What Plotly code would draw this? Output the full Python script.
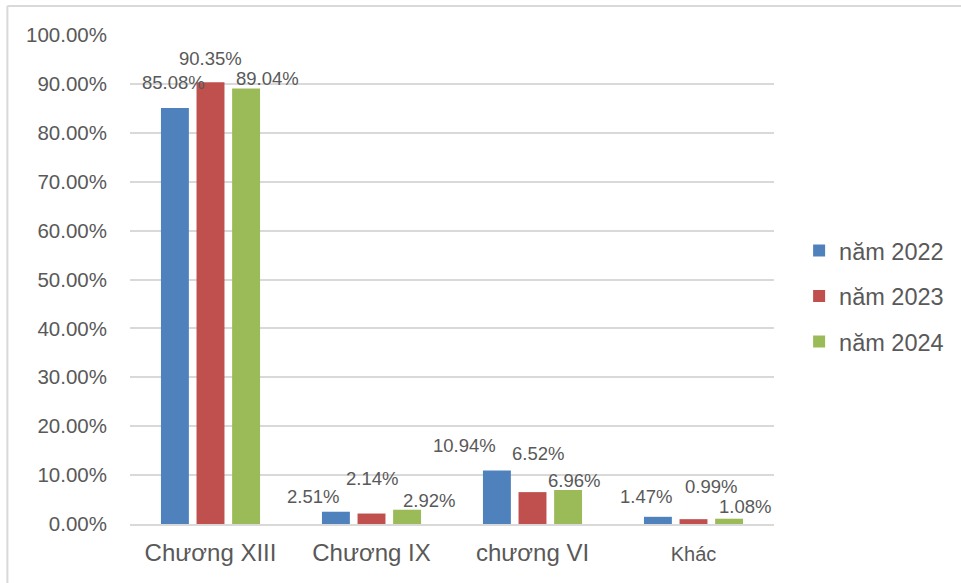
import plotly.graph_objects as go

categories = ["Chương XIII", "Chương IX", "chương VI", "Khác"]
series_names = ["năm 2022", "năm 2023", "năm 2024"]
values_2022 = [0.8508, 0.0251, 0.1094, 0.0147]
values_2023 = [0.9035, 0.0214, 0.0652, 0.0099]
values_2024 = [0.8904, 0.0292, 0.0696, 0.0108]
y_ticks = [0, 0.1, 0.2, 0.3, 0.4, 0.5, 0.6, 0.7, 0.8, 0.9, 1.0]

series_values = [values_2022, values_2023, values_2024]
colors = ["#4F81BD", "#C0504D", "#9BBB59"]

# label placement offsets (pixels) relative to bar top-centre, as in the reference
label_dx = [[-1, -23, -32, -12], [0, 0, 5, 17], [21, 22, 6, 16]]
label_dy = [[25, 15, 25, 20], [24, 35, 39, 33], [10, 9, 9, 12]]

W, H = 961, 583
ML, MR, MT, MB = 130, 185, 35, 59
bargap = 0.337
bargroupgap = 0.215
plot_w = W - ML - MR
cat_px = plot_w / len(categories)
slot = cat_px * (1 - bargap) / 3

text_col = "#595959"
FONT = "Liberation Sans, Arial, sans-serif"

fig = go.Figure()
for j, (name, vals) in enumerate(zip(series_names, series_values)):
    fig.add_trace(go.Bar(
        x=categories, y=vals, name=name,
        marker=dict(color=colors[j], line=dict(width=0)),
        legendgroup=name,
    ))

annotations = []
for j, vals in enumerate(series_values):
    for i, v in enumerate(vals):
        annotations.append(dict(
            x=categories[i], y=v, xref="x", yref="y",
            text=f"{v*100:.2f}%", showarrow=False,
            xanchor="center", yanchor="middle",
            xshift=(j - 1) * slot + label_dx[j][i],
            yshift=label_dy[j][i],
            font=dict(family=FONT, size=18.5, color=text_col),
        ))

plot_h = H - MT - MB
def px_to_paper_x(px):
    return (px - ML) / plot_w
def px_to_paper_y(py):
    return (H - MB - py) / plot_h

shapes = [
    dict(type="line", xref="paper", yref="paper",
         x0=px_to_paper_x(7), x1=px_to_paper_x(7),
         y0=px_to_paper_y(6), y1=px_to_paper_y(600),
         line=dict(color="#D9D9D9", width=2)),
    dict(type="line", xref="paper", yref="paper",
         x0=px_to_paper_x(7), x1=px_to_paper_x(970),
         y0=px_to_paper_y(6), y1=px_to_paper_y(6),
         line=dict(color="#D9D9D9", width=2)),
]

tick_text = ["Chương XIII", "Chương IX", "chương VI",
             '<span style="font-size:20px">Khác</span>']

fig.update_layout(
    width=W, height=H,
    margin=dict(l=ML, r=MR, t=MT, b=MB),
    paper_bgcolor="white", plot_bgcolor="white",
    barmode="group", bargap=bargap, bargroupgap=bargroupgap,
    font=dict(family=FONT, color=text_col),
    showlegend=True,
    legend=dict(
        x=1.039, xref="paper", xanchor="left", y=0.466, yanchor="middle",
        font=dict(family=FONT, size=23.5, color=text_col),
        tracegroupgap=12, itemwidth=30,
        bgcolor="rgba(0,0,0,0)",
    ),
    annotations=annotations,
    shapes=shapes,
    xaxis=dict(
        type="category",
        tickmode="array", tickvals=categories, ticktext=tick_text,
        showgrid=False, showline=True, linecolor="#D9D9D9", linewidth=1.5,
        ticks="", tickfont=dict(family=FONT, size=24, color=text_col),
        ticklabelstandoff=6,
    ),
    yaxis=dict(
        range=[0, 1.0], tickvals=y_ticks, tickformat=".2%",
        showgrid=True, gridcolor="#D9D9D9", gridwidth=1.5,
        zeroline=False, showline=False, ticks="",
        tickfont=dict(family=FONT, size=20.5, color=text_col),
        ticklabelstandoff=22,
    ),
)

fig.write_html("out.html")
